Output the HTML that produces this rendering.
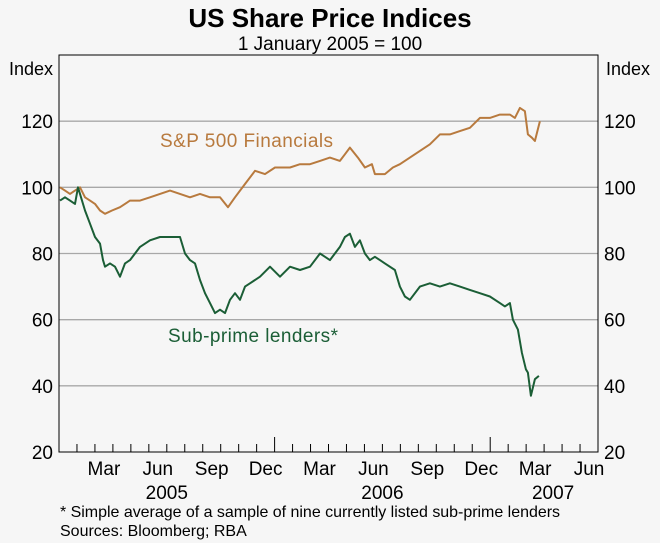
<!DOCTYPE html>
<html><head><meta charset="utf-8"><style>
body{margin:0;background:#f6f6f6;}
svg{display:block;font-family:"Liberation Sans",Arial,sans-serif;}
</style></head><body>
<svg id="chart" width="660" height="543" viewBox="0 0 660 543">
<rect x="0" y="0" width="660" height="543" fill="#f6f6f6"/>
<text x="330" y="27" text-anchor="middle" font-size="26" font-weight="bold" fill="#000">US Share Price Indices</text>
<text x="330" y="50" text-anchor="middle" font-size="19" fill="#000">1 January 2005 = 100</text>
<text x="31" y="75" text-anchor="middle" font-size="18">Index</text>
<text x="628" y="75" text-anchor="middle" font-size="18">Index</text>
<g id="grid"></g>
<g id="series"></g>
<rect x="59" y="55" width="539" height="397" fill="none" stroke="#000" stroke-width="1"/>
<g id="axes"></g>
<text x="160" y="147" font-size="19" fill="#b87a3e" textLength="173">S&amp;P 500 Financials</text>
<text x="168" y="342" font-size="19" fill="#1b5e36" textLength="170">Sub-prime lenders*</text>
<text x="60" y="517" font-size="16" textLength="500">* Simple average of a sample of nine currently listed sub-prime lenders</text>
<text x="60" y="536" font-size="16">Sources: Bloomberg; RBA</text>
</svg>
<script>
const yTicks=[20,40,60,80,100,120];
const monthLabels=["Mar","Jun","Sep","Dec","Mar","Jun","Sep","Dec","Mar","Jun"];
const monthLabelIdx=[2,5,8,11,14,17,20,23,26,29];
const yearLabels=["2005","2006","2007"];
const yearLabelPos=[6,18,27.5];
// x as pixel-read positions converted to months since 1 Jan 2005
const spX=[60,65,70,75,80,85,90,95,100,105,112,120,130,140,150,160,170,180,190,200,210,220,228,235,245,255,265,275,290,300,310,320,330,340,345,350,358,365,372,375,385,393,400,410,420,430,440,450,460,470,480,490,500,510,515,520,525,528,532,535,540];
const spV=[100,99,98,99,100,97,96,95,93,92,93,94,96,96,97,98,99,98,97,98,97,97,94,97,101,105,104,106,106,107,107,108,109,108,110,112,109,106,107,104,104,106,107,109,111,113,116,116,117,118,121,121,122,122,121,124,123,116,115,114,120];
const spMonths=spX.map(x=>(x-59)/17.97);
const subX=[60,65,70,75,78,85,90,95,100,103,105,110,115,120,125,130,135,140,150,160,170,180,185,190,195,200,205,210,215,220,225,230,235,240,245,250,260,270,280,290,300,310,320,325,330,335,340,345,350,355,360,365,370,375,385,395,400,405,410,420,430,440,450,460,470,480,490,500,505,510,513,518,522,526,528,531,535,539];
const subV=[96,97,96,95,100,93,89,85,83,78,76,77,76,73,77,78,80,82,84,85,85,85,80,78,77,72,68,65,62,63,62,66,68,66,70,71,73,76,73,76,75,76,80,79,78,80,82,85,86,82,84,80,78,79,77,75,70,67,66,70,71,70,71,70,69,68,67,65,64,65,60,57,50,45,44,37,42,43];
const subMonths=subX.map(x=>(x-59)/17.97);

const L=59,R=598,T=55,B=452;
const xs=m=>L+m*(R-L)/30;
const ys=v=>B-(v-20)*(B-T)/120;
const NS="http://www.w3.org/2000/svg";
function mk(tag,attrs,parent){const e=document.createElementNS(NS,tag);for(const k in attrs)e.setAttribute(k,attrs[k]);parent.appendChild(e);return e;}
const grid=document.getElementById('grid'),axes=document.getElementById('axes'),ser=document.getElementById('series');
yTicks.forEach(v=>{
  if(v>20){const g=mk('line',{x1:L,x2:R,y1:ys(v),y2:ys(v),stroke:'#a8a8a8','stroke-width':1.3},grid);
  
  }
  const t1=mk('text',{x:L-6,y:ys(v)+7,'text-anchor':'end','font-size':19},axes);t1.textContent=v;
  
  
  const t2=mk('text',{x:R+6,y:ys(v)+7,'text-anchor':'start','font-size':19},axes);t2.textContent=v;
  
  
});
for(let m=1;m<30;m++){
  const long=(m%12===0);
  const tk=mk('line',{x1:xs(m),x2:xs(m),y1:B,y2:B-(long?15:8),stroke:'#000','stroke-width':1},axes);
  
  
}
monthLabels.forEach((s,i)=>{
  const t=mk('text',{x:xs(monthLabelIdx[i]+0.5),y:475,'text-anchor':'middle','font-size':19},axes);t.textContent=s;
  
  
});
yearLabels.forEach((s,i)=>{
  const t=mk('text',{x:xs(yearLabelPos[i]),y:499,'text-anchor':'middle','font-size':19},axes);t.textContent=s;
  
  
});
function line(ms,vs,color,name){
  const d=ms.map((m,i)=>(i?'L':'M')+xs(m).toFixed(1)+','+ys(vs[i]).toFixed(1)).join(' ');
  const p=mk('path',{d:d,fill:'none',stroke:color,'stroke-width':2,'stroke-linejoin':'round'},ser);
  
  
}
line(spMonths,spV,'#b87a3e','sp500-financials-line');
line(subMonths,subV,'#1b5e36','subprime-lenders-line');
</script>
</body></html>
